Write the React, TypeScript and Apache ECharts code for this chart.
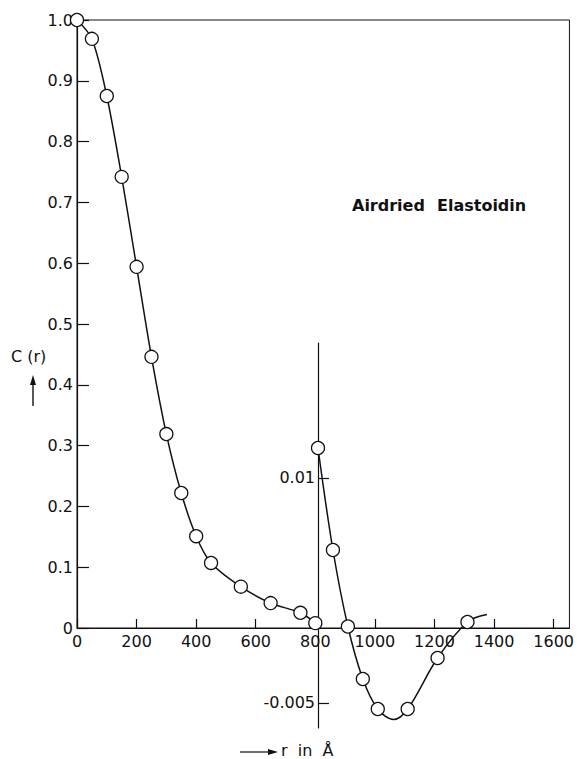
import React, { useEffect, useRef } from "react";
import * as echarts from "echarts";

// Main curve C(r), r in Å
const rMain = [0, 50, 100, 150, 200, 250, 300, 350, 400, 450, 550, 650, 750, 800];
const cMain = [1.0, 0.969, 0.875, 0.742, 0.594, 0.446, 0.319, 0.222, 0.151, 0.107, 0.068, 0.041, 0.025, 0.008];

// Inset (expanded scale) curve
const rInset = [800, 850, 900, 950, 1000, 1100, 1200, 1300];
const cInset = [0.012, 0.0052, 0.0001, -0.0034, -0.0054, -0.0054, -0.002, 0.0004];
// points of the drawn curve (no marker)
const insetCurveMin = [1053, -0.0061];
const insetCurveEnd = [1365, 0.0009];

const xTicks = [0, 200, 400, 600, 800, 1000, 1200, 1400, 1600];
const insetTicks = [0.01, -0.005];

const FONT = "DejaVu Sans";
const INK = "#111";

export default function App() {
  const ref = useRef<HTMLDivElement>(null);
  useEffect(() => {
    if (!ref.current) return;
    const chart = echarts.init(ref.current, undefined, { renderer: "svg" });
    const mainData = rMain.map((r, i) => [r, cMain[i]]);
    const insetData: any[] = rInset.map((r, i) => [r, cInset[i]]);
    insetData.splice(5, 0, { value: insetCurveMin, symbol: "none" });
    insetData.push({ value: insetCurveEnd, symbol: "none" });

    chart.setOption({
      animation: false,
      backgroundColor: "#fff",
      textStyle: { fontFamily: FONT, color: INK },
      grid: [
        { left: 77, top: 20, right: 4, bottom: 131, show: true, borderColor: INK, borderWidth: 1, backgroundColor: "transparent" },
        { left: 318, top: 343, right: 4, bottom: 31, show: false },
      ],
      xAxis: [
        {
          type: "value",
          gridIndex: 0,
          min: 0,
          max: 1653,
          interval: 200,
          axisLine: { show: true, lineStyle: { color: INK, width: 1.2 } },
          axisTick: { show: true, inside: true, length: 9, lineStyle: { color: INK, width: 1.2 }, customValues: xTicks },
          axisLabel: {
            customValues: xTicks,
            margin: 5,
            fontSize: 16,
            fontFamily: FONT,
            color: INK,
            formatter: (v: number) => String(v),
          },
          splitLine: { show: false },
        },
        { type: "value", gridIndex: 1, min: 800, max: 1653, show: false },
      ],
      yAxis: [
        {
          type: "value",
          gridIndex: 0,
          min: 0,
          max: 1,
          interval: 0.1,
          axisLine: { show: true, lineStyle: { color: INK, width: 1.2 } },
          axisTick: { show: true, inside: true, length: 12, lineStyle: { color: INK, width: 1.2 } },
          axisLabel: {
            margin: 4,
            fontSize: 16,
            fontFamily: FONT,
            color: INK,
            formatter: (v: number) => (v === 0 ? "0" : v.toFixed(1)),
          },
          splitLine: { show: false },
        },
        {
          type: "value",
          gridIndex: 1,
          position: "left",
          min: -0.0066667,
          max: 0.019,
          axisLine: { show: true, onZero: false, lineStyle: { color: INK, width: 1.2 } },
          axisTick: { show: true, inside: true, length: 11, lineStyle: { color: INK, width: 1.2 }, customValues: insetTicks },
          axisLabel: {
            customValues: insetTicks,
            margin: 3,
            fontSize: 16,
            fontFamily: FONT,
            color: INK,
            formatter: (v: number) => (v > 0 ? "0.01" : "-0.005"),
          },
          splitLine: { show: false },
        },
      ],
      series: [
        {
          type: "line",
          xAxisIndex: 0,
          yAxisIndex: 0,
          data: mainData,
          smooth: 0.3,
          symbol: "circle",
          symbolSize: 13,
          itemStyle: { color: "#fff", borderColor: INK, borderWidth: 1.3 },
          lineStyle: { color: INK, width: 1.5 },
        },
        {
          type: "line",
          xAxisIndex: 1,
          yAxisIndex: 1,
          data: insetData,
          smooth: 0.35,
          symbol: "circle",
          symbolSize: 13,
          itemStyle: { color: "#fff", borderColor: INK, borderWidth: 1.3 },
          lineStyle: { color: INK, width: 1.5 },
        },
      ],
      graphic: [
        { type: "text", left: 352, top: 197, style: { text: "Airdried", font: `bold 16px "${FONT}"`, fill: INK } },
        { type: "text", left: 437, top: 197, style: { text: "Elastoidin", font: `bold 16px "${FONT}"`, fill: INK } },
        { type: "text", left: 11, top: 348, style: { text: "C (r)", font: `16px "${FONT}"`, fill: INK } },
        { type: "line", shape: { x1: 33, y1: 406, x2: 33, y2: 382 }, style: { stroke: INK, lineWidth: 1.4 } },
        { type: "polygon", shape: { points: [[33, 375], [30, 385], [36, 385]] }, style: { fill: INK } },
        { type: "line", shape: { x1: 240, y1: 752, x2: 270, y2: 752 }, style: { stroke: INK, lineWidth: 1.2 } },
        { type: "polygon", shape: { points: [[278, 752], [268, 749], [268, 755]] }, style: { fill: INK } },
        { type: "text", left: 281, top: 742, style: { text: "r  in  Å", font: `16px "${FONT}"`, fill: INK } },
      ],
    });
    return () => chart.dispose();
  }, []);
  return <div ref={ref} style={{ position: "fixed", left: 0, top: 0, width: 577, height: 759 }} />;
}
